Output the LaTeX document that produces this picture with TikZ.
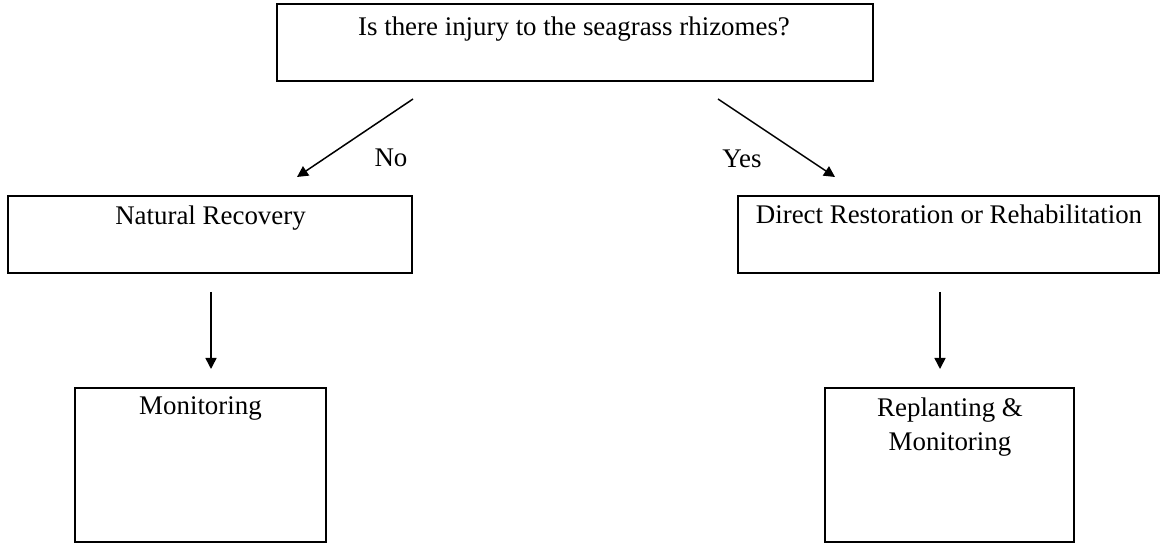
\documentclass[tikz,border=0pt]{standalone}
\usepackage{fontspec}
\setmainfont{Liberation Serif}
\usetikzlibrary{arrows.meta}
\begin{document}
\begin{tikzpicture}[x=0.5pt,y=-0.5pt,
  box/.style={draw, line width=0.9pt, rectangle, inner sep=0pt},
  lbl/.style={font=\fontsize{13.45}{17}\selectfont, inner sep=0pt, anchor=base, align=center},
  conn/.style={line width=0.75pt, -{Triangle[length=5.5pt,width=5.5pt]}}]
\useasboundingbox (0,0) rectangle (1161,544);

% question box
\node[box, minimum width=298pt, minimum height=38.5pt] (q) at (575,42.5) {};
\node[lbl] (qt) at (574,36) {Is there injury to the seagrass rhizomes?};

% second level
\node[box, minimum width=202pt, minimum height=38.5pt] (nat) at (210,234.5) {};
\node[lbl] (natt) at (210.5,225) {Natural Recovery};
\node[box, minimum width=210.5pt, minimum height=38.5pt] (dir) at (948.5,234.5) {};
\node[lbl] (dirt) at (949,224) {Direct Restoration or Rehabilitation};

% third level (base of a two-line label sits on its last line)
\node[box, minimum width=125.5pt, minimum height=77pt] (mon) at (200.5,465) {};
\node[lbl] (mont) at (200.5,415) {Monitoring};
\node[box, minimum width=124.5pt, minimum height=77pt] (rep) at (949.5,465) {};
\node[lbl] (rept) at (950,451) {Replanting \&\\Monitoring};

% connectors
\coordinate (noS) at (413,99);  \coordinate (noE) at (297,177);
\coordinate (yesS) at (718,99); \coordinate (yesE) at (835,177);
\coordinate (natS) at (211,292); \coordinate (natE) at (211,369);
\coordinate (dirS) at (940,292); \coordinate (dirE) at (940,369);
\draw[conn] (noS) -- (noE);
\draw[conn] (yesS) -- (yesE);
\draw[conn] (natS) -- (natE);
\draw[conn] (dirS) -- (dirE);

\node[lbl] (no) at (391,167) {No};
\node[lbl] (yes) at (742,168) {Yes};
\end{tikzpicture}
\end{document}
